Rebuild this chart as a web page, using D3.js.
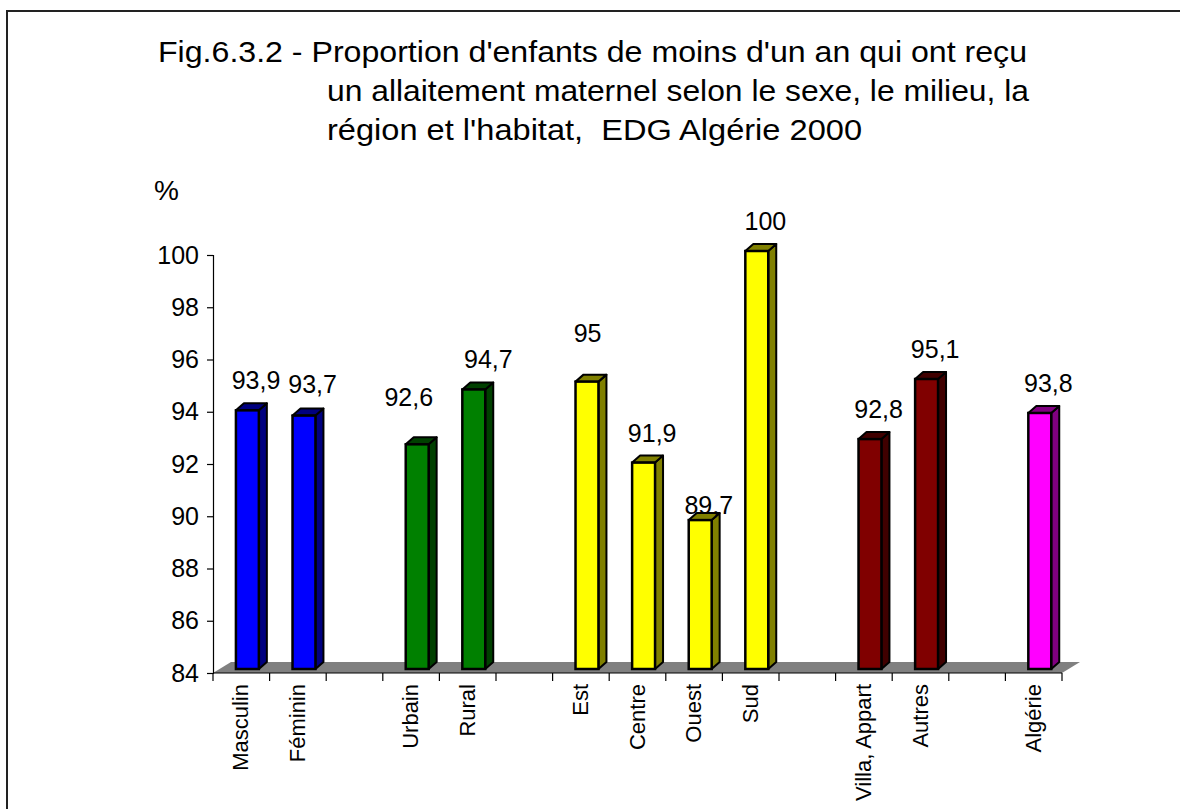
<!DOCTYPE html>
<html>
<head>
<meta charset="utf-8">
<script src="https://cdn.jsdelivr.net/npm/d3@7"></script>
<style>
  html, body { margin: 0; padding: 0; background: #fff; }
  svg { display: block; font-family: Arial, "Liberation Sans", Helvetica, sans-serif; }
</style>
</head>
<body>
<svg id="chart" width="1180" height="809"></svg>
<script>
// ---- data ----
const categories = ["Masculin", "Féminin", "", "Urbain", "Rural", "", "Est", "Centre", "Ouest", "Sud", "", "Villa, Appart", "Autres", "", "Algérie"];
const values     = [93.9, 93.7, null, 92.6, 94.7, null, 95, 91.9, 89.7, 100, null, 92.8, 95.1, null, 93.8];
const groups     = ["sexe", "sexe", null, "milieu", "milieu", null, "region", "region", "region", "region", null, "habitat", "habitat", null, "total"];
const yTicks     = [84, 86, 88, 90, 92, 94, 96, 98, 100];
const titleLines = [
  "Fig.6.3.2 - Proportion d'enfants de moins d'un an qui ont reçu",
  "un allaitement maternel selon le sexe, le milieu, la",
  "région et l'habitat,  EDG Algérie 2000"
];
const yUnit = "%";

// ---- styles ----
const palette = {
  sexe:    { front: "#0000FF", side: "#000080", top: "#000080" },
  milieu:  { front: "#008000", side: "#004000", top: "#004000" },
  region:  { front: "#FFFF00", side: "#808000", top: "#808000" },
  habitat: { front: "#800000", side: "#400000", top: "#400000" },
  total:   { front: "#FF00FF", side: "#800080", top: "#800080" }
};
// per-label nudges (as placed in the original chart)
const labelNudge = {
  "Féminin": [0, -2], "Urbain": [-17, -17], "Rural": [6, 0], "Est": [-8, -19], "Ouest": [0, 15]
};

const svg = d3.select("#chart");

// frame
svg.append("path").attr("d", "M7,809 L7,11 L1180,11")
  .attr("fill", "none").attr("stroke", "#222").attr("stroke-width", 2);

// title
const titleX = [158, 327, 327];
const titleY = [62, 101, 140];
const titleW = [869, 702, 535];
svg.append("g").selectAll("text").data(titleLines).join("text")
  .attr("x", (d, i) => titleX[i]).attr("y", (d, i) => titleY[i])
  .attr("font-size", 29).attr("fill", "#000")
  .attr("textLength", (d, i) => titleW[i]).attr("lengthAdjust", "spacingAndGlyphs")
  .style("white-space", "pre")
  .text(d => d);

svg.append("text").attr("x", 154).attr("y", 200).attr("font-size", 28).text(yUnit);

// scales
const x = d3.scaleBand().domain(d3.range(categories.length)).range([213, 1062]).paddingInner(0).paddingOuter(0);
const y = d3.scaleLinear().domain([84, 100]).range([673, 255]);
const bw = x.bandwidth();

// floor
const fdx = 18, fdy = -11;
const floor = [[x.range()[0], y(84)], [x.range()[1], y(84)], [x.range()[1] + fdx, y(84) + fdy], [x.range()[0] + fdx, y(84) + fdy]];
svg.append("polygon").attr("points", floor.map(p => p.join(",")).join(" "))
  .attr("fill", "#808080").attr("stroke", "none");

// y axis
const yAxis = d3.axisLeft(y).tickValues(yTicks).tickSize(6).tickPadding(8).tickFormat(d3.format("d"));
const gy = svg.append("g").attr("transform", `translate(${x.range()[0]},0)`).call(yAxis);
gy.select(".domain").attr("stroke", "#000").attr("stroke-width", 1.2);
gy.selectAll(".tick line").attr("stroke", "#000").attr("stroke-width", 1.2);
gy.selectAll(".tick text").attr("font-size", 25).attr("fill", "#000").attr("font-family", "Arial, 'Liberation Sans', sans-serif");

// x axis line + ticks at band boundaries
const gx = svg.append("g");
gx.append("line").attr("x1", x.range()[0]).attr("x2", x.range()[1]).attr("y1", y(84)).attr("y2", y(84))
  .attr("stroke", "#000").attr("stroke-width", 1.2);
const bounds = d3.range(categories.length + 1).map(i => i < categories.length ? x(i) : x.range()[1]);
gx.selectAll("line.tk").data(bounds).join("line").attr("class", "tk")
  .attr("x1", d => d).attr("x2", d => d).attr("y1", y(84)).attr("y2", y(84) + 8)
  .attr("stroke", "#000").attr("stroke-width", 1.2);

// category labels
gx.selectAll("text.cat").data(categories).join("text").attr("class", "cat")
  .attr("transform", (d, i) => `translate(${x(i) + bw / 2 + 7},${y(84) + 11}) rotate(-90)`)
  .attr("text-anchor", "end").attr("font-size", 22).attr("fill", "#000")
  .text(d => d);

// bars
const bdx = 8, bdy = -7, lift = 4;
const barData = values.map((v, i) => ({ v, i, g: groups[i], c: categories[i] })).filter(d => d.v !== null);
const gb = svg.append("g");
barData.forEach(d => {
  const col = palette[d.g];
  const x0 = x(d.i) + bw * 0.405, x1 = x0 + bw * 0.405;
  const yb = y(84) - lift, yt = y(d.v) - lift;
  const pts = a => a.map(p => p.join(",")).join(" ");
  gb.append("polygon").attr("points", pts([[x1, yb], [x1 + bdx, yb + bdy], [x1 + bdx, yt + bdy], [x1, yt]]))
    .attr("fill", col.side).attr("stroke", "#000").attr("stroke-width", 2).attr("stroke-linejoin", "round");
  gb.append("polygon").attr("points", pts([[x0, yt], [x1, yt], [x1 + bdx, yt + bdy], [x0 + bdx, yt + bdy]]))
    .attr("fill", col.top).attr("stroke", "#000").attr("stroke-width", 2).attr("stroke-linejoin", "round");
  gb.append("rect").attr("x", x0).attr("y", yt).attr("width", x1 - x0).attr("height", yb - yt)
    .attr("fill", col.front).attr("stroke", "#000").attr("stroke-width", 2.5);
});
// value labels (drawn after bars)
barData.forEach(d => {
  const n = labelNudge[d.c] || [0, 0];
  const yt = y(d.v) - lift;
  gb.append("text").attr("x", x(d.i) + 43 + n[0]).attr("y", yt - 21 + n[1])
    .attr("text-anchor", "middle").attr("font-size", 25).attr("fill", "#000")
    .text(String(d.v).replace(".", ","));
});
</script>
</body>
</html>
